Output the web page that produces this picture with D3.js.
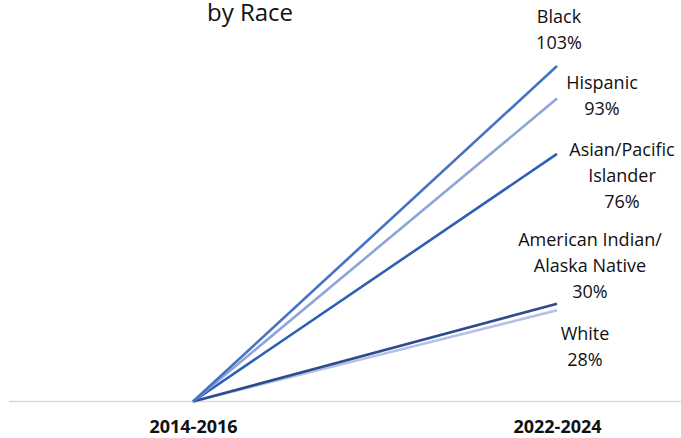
<!DOCTYPE html>
<html>
<head>
<meta charset="utf-8">
<script src="https://cdn.jsdelivr.net/npm/d3@7"></script>
<style>
  body { margin: 0; background: #fff; }
  svg { display: block; font-family: "Open Sans", "Liberation Sans", sans-serif; }
</style>
</head>
<body>
<div id="grafico"></div>
<script>
// datos
const periodos = ["2014-2016", "2022-2024"];
const grupos = ["Black", "Hispanic", "Asian/Pacific Islander", "American Indian/Alaska Native", "White"];
const cambio = [103, 93, 76, 30, 28]; // % de cambio al final del periodo
const etiquetas = [
  ["Black", "103%"],
  ["Hispanic", "93%"],
  ["Asian/Pacific", "Islander", "76%"],
  ["American Indian/", "Alaska Native", "30%"],
  ["White", "28%"],
];

const width = 681;
const height = 438;

const colores = ["#4472c4", "#8fa5d9", "#2f5fb3", "#2e4c8c", "#b4c2e6"];
// desplazamiento de etiquetas respecto al final de la linea
const etiquetaPos = [
  { dx: 2, y: 23 },
  { dx: 45, y: 89 },
  { dx: 65, y: 156 },
  { dx: 33, y: 246 },
  { dx: 28, y: 340 },
];

const svg = d3
  .select("#grafico")
  .append("svg")
  .attr("width", width)
  .attr("height", height);

const x = d3.scalePoint().domain(periodos).range([193, 557]);
const y = d3.scaleLinear().domain([0, 103]).range([401.5, 66]);

// titulo (recortado arriba)
svg
  .append("text")
  .attr("x", 250)
  .attr("y", 21)
  .attr("text-anchor", "middle")
  .style("font-size", "24px")
  .attr("fill", "#111")
  .text("by Race");

// Eje X
const eje = svg
  .append("g")
  .attr("transform", `translate(0,${y(0)})`)
  .call(d3.axisBottom(x).tickSize(0).tickPadding(19));
eje.select(".domain").attr("d", `M9,0H${width}`).attr("stroke", "#d9d9d9").attr("stroke-width", 1.5);
eje
  .selectAll("text")
  .attr("fill", "#111")
  .style("font-size", "18px")
  .style("font-weight", "bold")
  .style("font-family", '"Open Sans", sans-serif');

// lineas
const linea = d3
  .line()
  .x((d) => x(d[0]))
  .y((d) => y(d[1]));

svg
  .append("g")
  .selectAll("path")
  .data(grupos.map((g, i) => ({ g, i, pts: [[periodos[0], 0], [periodos[1], cambio[i]]] })).reverse())
  .join("path")
  .attr("d", (d) => linea(d.pts))
  .attr("fill", "none")
  .attr("stroke", (d) => colores[d.i])
  .attr("stroke-width", 2.6);

// etiquetas
svg
  .append("g")
  .selectAll("text")
  .data(etiquetas)
  .join("text")
  .attr("text-anchor", "middle")
  .attr("fill", "#111")
  .style("font-size", "18px")
  .each(function (d, i) {
    const t = d3.select(this);
    d.forEach((linea, j) => {
      t.append("tspan")
        .attr("x", x(periodos[1]) + etiquetaPos[i].dx)
        .attr("y", etiquetaPos[i].y + j * 26)
        .text(linea);
    });
  });
</script>
</body>
</html>
